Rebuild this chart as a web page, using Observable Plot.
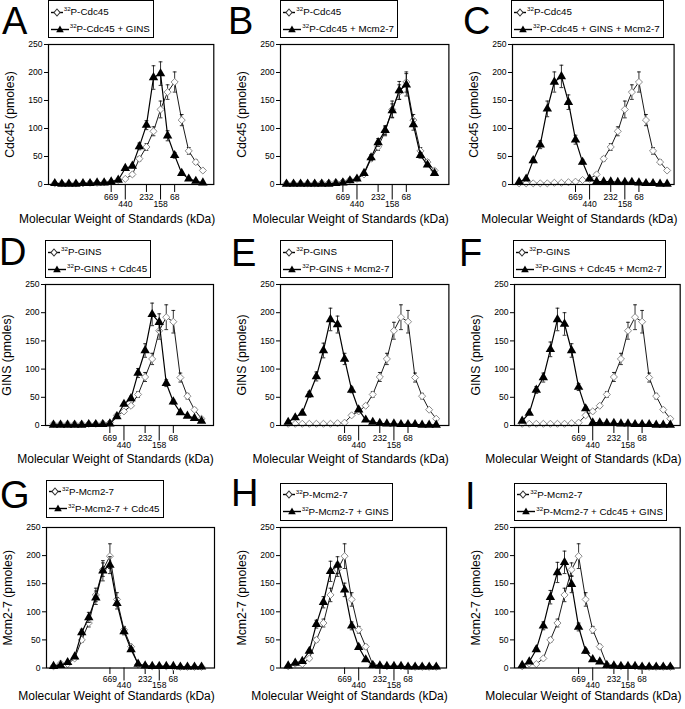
<!DOCTYPE html>
<html><head><meta charset="utf-8">
<script src="https://cdn.jsdelivr.net/npm/d3@7"></script>
<script src="https://cdn.jsdelivr.net/npm/@observablehq/plot@0.6"></script>
<style>
body{margin:0;background:#fff;}
#fig{position:relative;width:685px;height:709px;font-family:"Liberation Sans",Arial,Helvetica,sans-serif;overflow:hidden;background:#fff;color:#000}
.letter{position:absolute;font-size:38px;line-height:44px;white-space:nowrap}
.legend{position:absolute;border:1.2px solid #000;background:#fff;font-size:9.8px;padding:2px 3px 0 2px;height:34px;box-sizing:content-box;white-space:nowrap}
.lrow{display:flex;align-items:center;height:17px}
.lrow svg{margin-right:1px;flex:none}
.lrow sup{font-size:6.2px;vertical-align:4px;line-height:0}
</style></head>
<body><div id="fig"></div>
<script>
// ---- data ----
const fractions = [1,2,3,4,5,6,7,8,9,10,11,12,13,14,15,16,17,18,19,20,21,22];
const stdFractions = [9,11,14,16,18];
const stdLabels = ["669","440","232","158","68"];
const yTicks = [0,50,100,150,200,250];
const xLabel = "Molecular Weight of Standards (kDa)";

const cdc45Alone          = [2,2,2,2,2,3,3,4,5,8,10,18,46,67,95,134,165,183,115,60,40,25];
const cdc45AloneErr       = [0,0,0,0,0,0,0,0,1,1,2,3,4,6,8,15,13,18,10,6,4,3];
const cdc45PlusGins       = [2,1,1,1,2,2,3,3,5,8,29,33,68,106,191,198,87,52,20,10,6,3];
const cdc45PlusGinsErr    = [0,0,0,0,0,0,0,0,1,1,3,3,6,8,21,21,9,5,2,1,1,0];
const cdc45PlusMcm        = [1,1,1,1,1,1,1,2,3,7,10,20,48,75,97,132,168,178,107,52,35,20];
const cdc45PlusMcmErr     = [0,0,0,0,0,0,0,0,0,1,1,2,5,7,8,12,16,20,10,5,3,2];
const cdc45PlusGinsMcm    = [5,10,43,71,135,183,193,147,80,40,10,5,5,5,4,4,4,3,2,2,1,1];
const cdc45PlusGinsMcmErr = [1,1,4,7,14,18,20,13,8,4,1,0,0,0,0,0,0,0,0,0,0,0];

const ginsAlone           = [3,3,3,3,3,3,3,4,5,18,25,35,55,86,118,168,192,184,85,52,28,12];
const ginsAloneErr        = [0,0,0,0,0,0,0,0,1,2,3,3,5,8,10,15,22,20,8,5,3,1];
const ginsPlusCdc45       = [1,1,1,1,1,2,2,2,3,16,38,48,93,133,197,183,75,42,23,17,13,8];
const ginsPlusCdc45Err    = [0,0,0,0,0,0,0,0,0,2,3,4,8,12,20,15,6,4,2,1,1,1];
const ginsPlusMcm         = [6,14,22,55,87,133,188,179,118,63,28,10,6,4,3,3,2,2,2,1,1,1];
const ginsPlusMcmErr      = [1,1,2,5,8,13,20,15,10,5,3,1,0,0,0,0,0,0,0,0,0,0];
const ginsPlusCdc45Mcm    = [8,22,63,85,135,188,180,133,68,30,5,5,4,4,3,3,2,2,2,1,1,1];
const ginsPlusCdc45McmErr = [1,2,6,8,13,20,20,12,6,3,1,0,0,0,0,0,0,0,0,0,0,0];

const mcmAlone            = [3,8,7,17,50,80,130,175,199,122,68,38,6,4,3,3,3,2,2,2,2,2];
const mcmAloneErr         = [0,1,1,2,4,7,12,12,22,12,6,4,1,0,0,0,0,0,0,0,0,0];
const mcmPlusCdc45        = [3,5,10,20,63,90,125,173,183,115,65,33,7,4,3,3,3,3,2,2,2,2];
const mcmPlusCdc45Err     = [0,0,1,2,6,9,12,18,15,10,6,3,1,0,0,0,0,0,0,0,0,0];
const mcmPlusGins         = [4,9,12,30,78,117,172,183,139,75,37,15,5,4,3,3,3,2,2,2,2,2];
const mcmPlusGinsErr      = [0,1,1,3,7,10,18,15,12,7,4,2,0,0,0,0,0,0,0,0,0,0];
const mcmPlusCdc45Gins    = [5,11,33,75,126,170,188,149,73,30,15,11,5,4,3,3,3,2,2,2,2,2];
const mcmPlusCdc45GinsErr = [1,1,3,7,12,18,20,15,7,4,2,1,0,0,0,0,0,0,0,0,0,0];

const panels = [
  {letter:"A", ylabel:"Cdc45 (pmoles)", n1:"P-Cdc45", n2:"P-Cdc45 + GINS", a:cdc45Alone, ae:cdc45AloneErr, b:cdc45PlusGins, be:cdc45PlusGinsErr},
  {letter:"B", ylabel:"Cdc45 (pmoles)", n1:"P-Cdc45", n2:"P-Cdc45 + Mcm2-7", a:cdc45Alone, ae:cdc45AloneErr, b:cdc45PlusMcm, be:cdc45PlusMcmErr},
  {letter:"C", ylabel:"Cdc45 (pmoles)", n1:"P-Cdc45", n2:"P-Cdc45 + GINS + Mcm2-7", a:cdc45Alone, ae:cdc45AloneErr, b:cdc45PlusGinsMcm, be:cdc45PlusGinsMcmErr},
  {letter:"D", ylabel:"GINS (pmoles)", n1:"P-GINS", n2:"P-GINS + Cdc45", a:ginsAlone, ae:ginsAloneErr, b:ginsPlusCdc45, be:ginsPlusCdc45Err},
  {letter:"E", ylabel:"GINS (pmoles)", n1:"P-GINS", n2:"P-GINS + Mcm2-7", a:ginsAlone, ae:ginsAloneErr, b:ginsPlusMcm, be:ginsPlusMcmErr},
  {letter:"F", ylabel:"GINS (pmoles)", n1:"P-GINS", n2:"P-GINS + Cdc45 + Mcm2-7", a:ginsAlone, ae:ginsAloneErr, b:ginsPlusCdc45Mcm, be:ginsPlusCdc45McmErr},
  {letter:"G", ylabel:"Mcm2-7 (pmoles)", n1:"P-Mcm2-7", n2:"P-Mcm2-7 + Cdc45", a:mcmAlone, ae:mcmAloneErr, b:mcmPlusCdc45, be:mcmPlusCdc45Err},
  {letter:"H", ylabel:"Mcm2-7 (pmoles)", n1:"P-Mcm2-7", n2:"P-Mcm2-7 + GINS", a:mcmAlone, ae:mcmAloneErr, b:mcmPlusGins, be:mcmPlusGinsErr},
  {letter:"I", ylabel:"Mcm2-7 (pmoles)", n1:"P-Mcm2-7", n2:"P-Mcm2-7 + Cdc45 + GINS", a:mcmAlone, ae:mcmAloneErr, b:mcmPlusCdc45Gins, be:mcmPlusCdc45GinsErr}
];

// ---- layout (frame edges in page px, x-domain, letter & legend placement) ----
const layout = [
  {L:47.7, R:213,   T:43.7,  B:183.7, d:[0.11,23.55], lx:2,   lb:36,  gx:47.7,  gy:0,     xdy:34.5, ts:[8,15.5]},
  {L:280.3,R:448.7, T:43.7,  B:183.7, d:[0.15,24.04], lx:228, lb:36,  gx:280.3, gy:0,     xdy:34.5, ts:[8,15.5]},
  {L:511.7,R:673.3, T:43.7,  B:183.7, d:[0.06,22.99], lx:463, lb:36,  gx:511,   gy:0,     xdy:34.5, ts:[8,15.5]},
  {L:45,   R:213,   T:284.3, B:425.3, d:[-0.13,23.7], lx:-1,  lb:267, gx:45,    gy:240,   xdy:34,   ts:[8,15.5]},
  {L:280.3,R:448.7, T:284.3, B:425.3, d:[-0.09,23.8], lx:231, lb:268, gx:280.3, gy:240,   xdy:34,   ts:[8,15.5]},
  {L:514.3,R:680,   T:284.3, B:425.3, d:[-0.09,23.4], lx:459, lb:268, gx:513.3, gy:240,   xdy:34,   ts:[8,15.5]},
  {L:46,   R:214,   T:526.5, B:667,   d:[0.0,23.84],  lx:0,   lb:510, gx:46,    gy:479.5, xdy:28,   ts:[6.5,13]},
  {L:280.3,R:446.3, T:526.5, B:667,   d:[-0.09,23.45],lx:231, lb:508.5,gx:279.7,gy:482.5, xdy:28,   ts:[6.5,13]},
  {L:514.3,R:680,   T:526.5, B:667,   d:[-0.09,23.4], lx:465, lb:511, gx:514.3, gy:482.5, xdy:28,   ts:[6.5,13]}
];

const labelMap = new Map(stdFractions.map((f,i)=>[f, stdLabels[i]]));
const capSymbol = {draw(ctx, size){ const w = Math.sqrt(size/Math.PI); ctx.moveTo(-w,0); ctx.lineTo(w,0); }};
const FONT = '"Liberation Sans",Arial,Helvetica,sans-serif';
const TICKFS = 8.6;
const fig = document.getElementById("fig");

function seriesMarks(vals, errs, kind){
  const rows = fractions.map((f,i)=>({f, v:vals[i], e:errs[i]}));
  const er = rows.filter(d=>d.e>0);
  const open = kind === "open";
  return [
    Plot.ruleX(er, {x:"f", y1:d=>d.v-d.e, y2:d=>d.v+d.e, stroke:"#000", strokeWidth:0.8}),
    Plot.dot(er, {x:"f", y:d=>d.v+d.e, symbol:capSymbol, r:1.9, stroke:"#000", strokeWidth:0.8, fill:"none"}),
    Plot.dot(er, {x:"f", y:d=>d.v-d.e, symbol:capSymbol, r:1.9, stroke:"#000", strokeWidth:0.8, fill:"none"}),
    Plot.line(rows, {x:"f", y:"v", stroke:"#000", strokeWidth: open ? 0.9 : 1.2}),
    open
      ? Plot.dot(rows, {x:"f", y:"v", symbol:"diamond2", r:3.2, fill:"#fff", stroke:"#808080", strokeWidth:0.9})
      : Plot.dot(rows, {x:"f", y:"v", symbol:"triangle", r:3.5, fill:"#000", stroke:"none"})
  ];
}

function legendSymbol(kind, w){
  const c = w/2;
  const m = kind === "open"
    ? `<polygon points="${c},2 ${c+3},5.5 ${c},9 ${c-3},5.5" fill="#fff" stroke="#333" stroke-width="1.1"/>`
    : `<polygon points="${c},1.5 ${c+3.8},8.3 ${c-3.8},8.3" fill="#000"/>`;
  return `<svg width="${w}" height="10"><line x1="0" y1="5.5" x2="${w}" y2="5.5" stroke="#000" stroke-width="1.4"/>${m}</svg>`;
}

panels.forEach((p, k) => {
  const g = layout[k];
  const mL = 50, mR = 8, mT = 8, mB = 46;
  const fw = g.R - g.L, fh = g.B - g.T;
  const svg = Plot.plot({
    width: fw + mL + mR,
    height: fh + mT + mB,
    marginLeft: mL, marginRight: mR, marginTop: mT, marginBottom: mB,
    x: {domain: g.d},
    y: {domain: [0, 250]},
    style: {fontFamily: FONT, fontSize: TICKFS + "px", background: "transparent", overflow: "visible", color: "#000"},
    marks: [
      Plot.axisY({ticks: yTicks, tickSize: 4, tickPadding: 2, label: null, fontSize: TICKFS}),
      Plot.axisX({ticks: stdFractions.filter((f,i)=>i%2===0), tickSize: g.ts[0], tickPadding: 1.2, tickFormat: f=>labelMap.get(f), label: null, fontSize: TICKFS}),
      Plot.axisX({ticks: stdFractions.filter((f,i)=>i%2===1), tickSize: g.ts[1], tickPadding: 0.8, tickFormat: f=>labelMap.get(f), label: null, fontSize: TICKFS}),
      ...seriesMarks(p.a, p.ae, "open"),
      ...seriesMarks(p.b, p.be, "filled"),
      Plot.frame({stroke: "#000", strokeWidth: 1.2}),
      Plot.text([p.ylabel], {text: d=>d, frameAnchor: "left", rotate: -90, dx: -38, textAnchor: "middle", lineAnchor: "middle", fontSize: 12.3}),
      Plot.text([xLabel], {text: d=>d, frameAnchor: "bottom", dx: -14, dy: g.xdy, textAnchor: "middle", lineAnchor: "middle", fontSize: 12})
    ]
  });
  svg.style.position = "absolute";
  svg.style.left = (g.L - mL) + "px";
  svg.style.top = (g.T - mT) + "px";
  fig.appendChild(svg);

  const lt = document.createElement("div");
  lt.className = "letter";
  lt.textContent = p.letter;
  lt.style.left = g.lx + "px";
  // baseline offset inside a 44px line box ≈ 37.3px
  lt.style.top = (g.lb - 37.3) + "px";
  fig.appendChild(lt);

  const lg = document.createElement("div");
  lg.className = "legend";
  lg.style.left = g.gx + "px";
  lg.style.top = g.gy + "px";
  lg.innerHTML =
    `<div class="lrow">${legendSymbol("open", 12)}<span><sup>32</sup>${p.n1}</span></div>` +
    `<div class="lrow">${legendSymbol("filled", 18)}<span><sup>32</sup>${p.n2}</span></div>`;
  fig.appendChild(lg);
});
</script>
</body></html>
